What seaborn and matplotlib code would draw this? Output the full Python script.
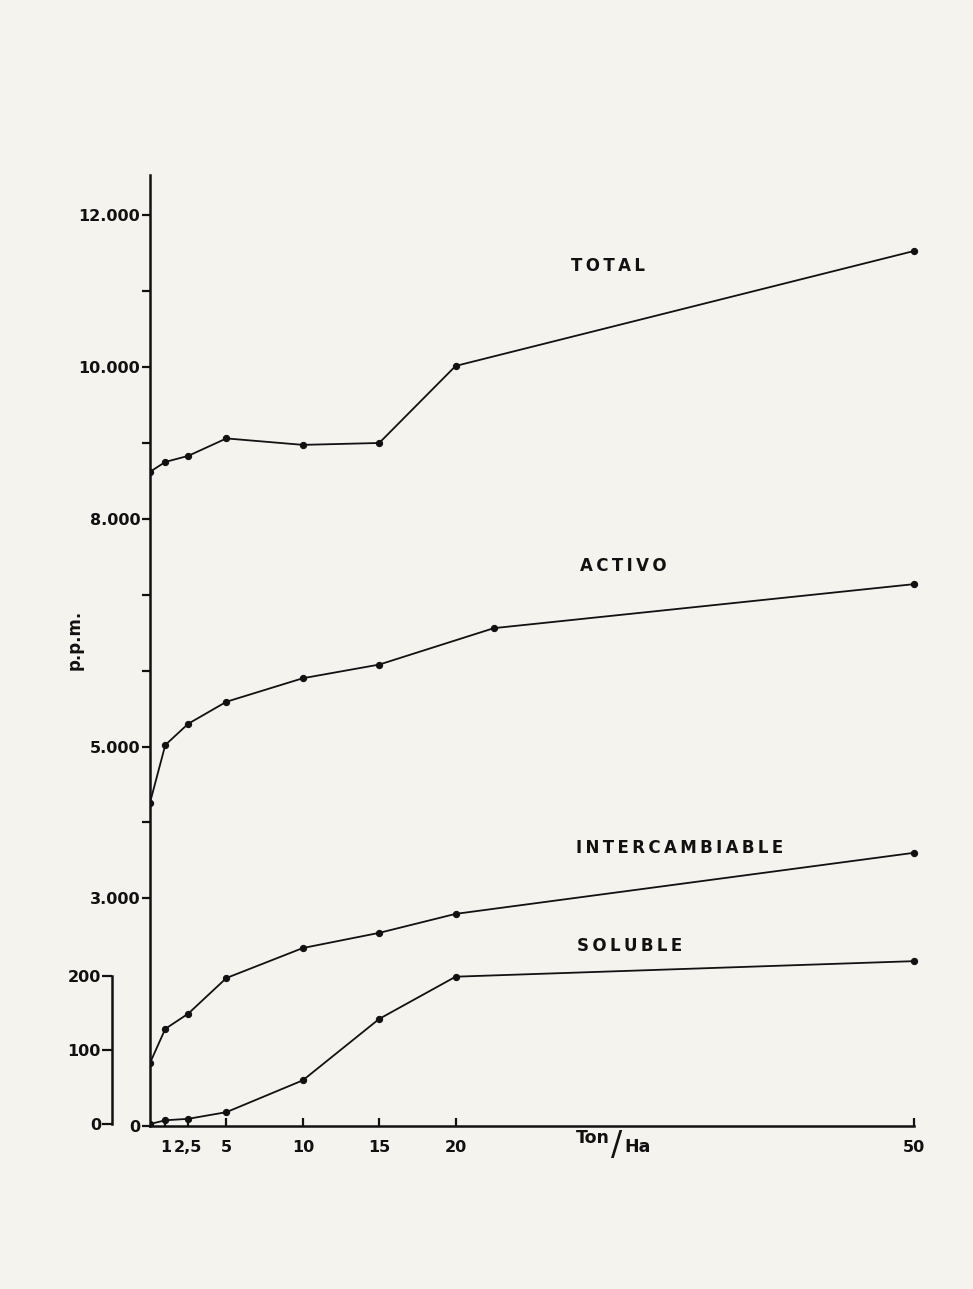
import matplotlib
matplotlib.use("Agg")
import matplotlib.pyplot as plt
import seaborn as sns
import pandas as pd

# Dosis aplicada (Ton/Ha)
dosis = [0, 1, 2.5, 5, 10, 15, 20, 50]
dosis_activo = [0, 1, 2.5, 5, 10, 15, 22.5, 50]

# Contenidos (p.p.m.)
total = [8620, 8750, 8830, 9060, 8975, 9000, 10015, 11530]
activo = [4260, 5020, 5300, 5590, 5900, 6080, 6560, 7140]
intercambiable = [830, 1280, 1480, 1950, 2345, 2545, 2795, 3600]
soluble = [0, 5, 7, 16, 59, 142, 199, 220]  # escala auxiliar 0-200

xticks = [1, 2.5, 5, 10, 15, 20, 50]
xticklabels = ["1", "2,5", "5", "10", "15", "20", "50"]
yticks = [0, 3000, 5000, 8000, 10000, 12000]
yticklabels = ["0", "3.000", "5.000", "8.000", "10.000", "12.000"]
yminor = [4000, 6000, 7000, 9000, 11000]
sol_ticks = [0, 100, 200]
sol_labels = ["0", "100", "200"]

sns.set_style("white")
plt.rcParams["font.family"] = ["DejaVu Sans"]

W, H = 973, 1289
DPI = 100
paper = "#f5f3ee"
ink = "#111111"

fig = plt.figure(figsize=(W / DPI, H / DPI), dpi=DPI, facecolor=paper)

def px_box(left, top, right, bottom):
    return [left / W, 1 - bottom / H, (right - left) / W, (bottom - top) / H]

ax = fig.add_axes(px_box(150, 175, 937, 1126))
ax.set_facecolor("none")

main = pd.concat([
    pd.DataFrame({"dosis": dosis, "ppm": total, "serie": "TOTAL"}),
    pd.DataFrame({"dosis": dosis_activo, "ppm": activo, "serie": "ACTIVO"}),
    pd.DataFrame({"dosis": dosis, "ppm": intercambiable, "serie": "INTERCAMBIABLE"}),
])
sns.lineplot(data=main, x="dosis", y="ppm", units="serie", estimator=None,
             color=ink, lw=1.3, marker="o", markersize=4.5,
             markeredgecolor=ink, ax=ax, legend=False)

ax.set_xlim(0, 51.5)
ax.set_ylim(0, 12531)

# Escala auxiliar para la fracción soluble
ax2 = ax.twinx()
sol = pd.DataFrame({"dosis": dosis, "ppm": soluble})
sns.lineplot(data=sol, x="dosis", y="ppm", color=ink, lw=1.3, marker="o",
             markersize=4.5, markeredgecolor=ink, ax=ax2, legend=False)
ax2.set_ylim(-2.7, 1282)
ax2.set_xlim(0, 51.5)

for s in ["top", "right"]:
    ax.spines[s].set_visible(False)
for s in ["top", "right", "bottom"]:
    ax2.spines[s].set_visible(False)

for a in (ax, ax2):
    a.set_xlabel("")
    a.set_ylabel("")

ax.spines["left"].set_linewidth(1.8)
ax.spines["left"].set_color(ink)
ax.spines["bottom"].set_linewidth(1.8)
ax.spines["bottom"].set_color(ink)
ax.spines["bottom"].set_bounds(0, 50)

ax2.spines["left"].set_visible(True)
ax2.spines["left"].set_position(("outward", 38 * 72 / DPI))
ax2.spines["left"].set_bounds(0, 200)
ax2.spines["left"].set_linewidth(1.8)
ax2.spines["left"].set_color(ink)
ax2.yaxis.set_ticks_position("left")
ax2.yaxis.set_label_position("left")

lab_font = dict(fontsize=11.5, fontweight="bold", color=ink)

ax.set_yticks(yticks)
ax.set_yticklabels(yticklabels, **lab_font)
ax.set_yticks(yminor, minor=True)
ax.tick_params(axis="y", which="both", direction="out", length=6, width=1.6,
               color=ink, pad=1, left=True)

ax.set_xticks(xticks)
ax.set_xticklabels(xticklabels, **lab_font)
ax.tick_params(axis="x", direction="in", length=6, width=1.6, color=ink,
               pad=10, bottom=True)

ax2.set_yticks(sol_ticks)
ax2.set_yticklabels(sol_labels, **lab_font)
ax2.tick_params(axis="y", direction="out", length=7, width=1.6, color=ink,
                pad=1, left=True, right=False, labelleft=True, labelright=False)

# Rótulos de las curvas
ts = "\u2009"
serie_font = dict(fontsize=12, fontweight="bold", color=ink, ha="center", va="center")
for name, (x, y) in {"TOTAL": (608, 266), "ACTIVO": (623, 566),
                     "INTERCAMBIABLE": (680, 848), "SOLUBLE": (630, 946)}.items():
    fig.text(x / W, 1 - y / H, ts.join(name), **serie_font)

fig.text(75 / W, 1 - 640 / H, "p.p.m.", rotation=90, fontsize=12,
         fontweight="bold", color=ink, ha="center", va="center")

fig.text(593 / W, 1 - 1138 / H, "Ton", fontsize=12.5, fontweight="bold",
         color=ink, ha="center", va="center")
fig.text(617 / W, 1 - 1145 / H, "/", fontsize=24, color=ink,
         ha="center", va="center")
fig.text(638 / W, 1 - 1147 / H, "Ha", fontsize=12.5, fontweight="bold",
         color=ink, ha="center", va="center")

fig.savefig("out.png", dpi=DPI, facecolor=paper)
